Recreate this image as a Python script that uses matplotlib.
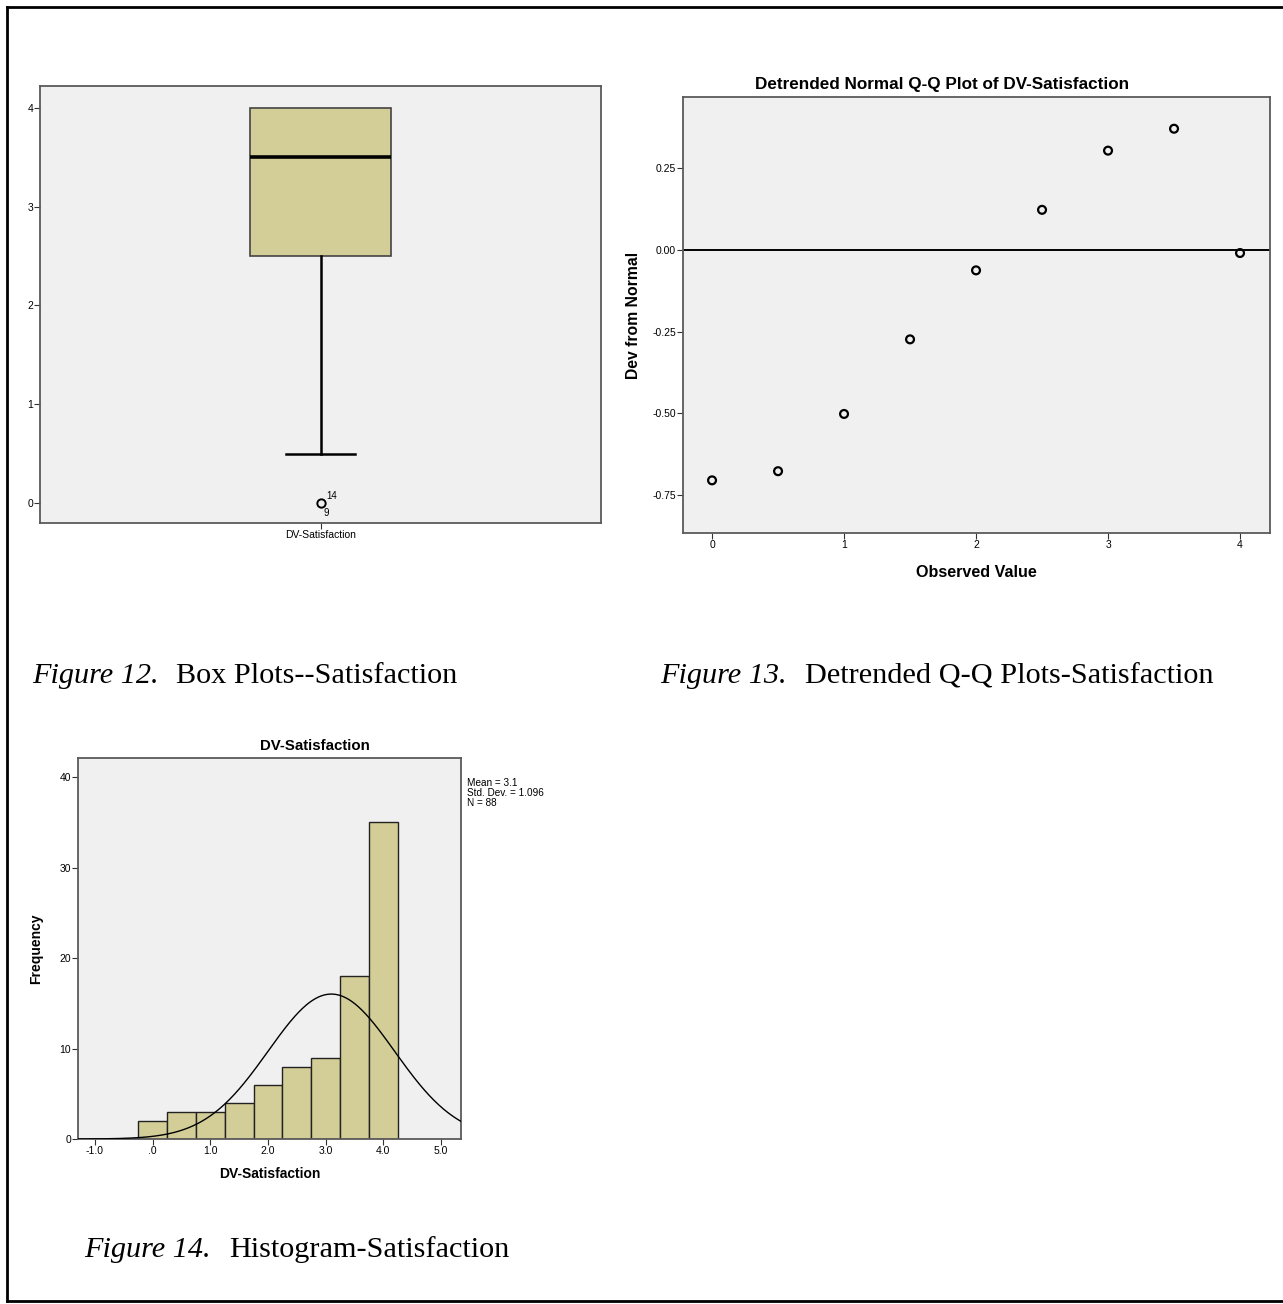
import matplotlib
matplotlib.use("Agg")
import matplotlib.pyplot as plt
import numpy as np

plt.rcParams['font.family'] = ['Liberation Sans', 'DejaVu Sans']

W, H = 1283, 1304

# box plot summary (DV-Satisfaction)
box_label = "DV-Satisfaction"
box_q1, box_med, box_q3 = 2.5, 3.5, 4.0
box_whislo, box_whishi = 0.5, 4.0
outlier_vals = [0.0]
outlier_ids = ["14", "9"]

# detrended Q-Q points
qq_observed = [0.0, 0.5, 1.0, 1.5, 2.0, 2.5, 3.0, 3.5, 4.0]
qq_dev = [-0.705, -0.677, -0.502, -0.274, -0.063, 0.122, 0.303, 0.370, -0.010]

# histogram
hist_centers = [0.0, 0.5, 1.0, 1.5, 2.0, 2.5, 3.0, 3.5, 4.0]
hist_counts = [2, 3, 3, 4, 6, 8, 9, 18, 35]
hist_mean, hist_sd, hist_n = 3.1, 1.096, 88
hist_xticks = [-1.0, 0.0, 1.0, 2.0, 3.0, 4.0, 5.0]
hist_xlabels = ["-1.0", ".0", "1.0", "2.0", "3.0", "4.0", "5.0"]

BG = '#f0f0f0'
FILL = '#d3ce97'
SPINE = '#5a5a5a'


def px_axes(fig, x0, y0, x1, y1):
    return fig.add_axes([x0 / W, 1 - y1 / H, (x1 - x0) / W, (y1 - y0) / H])


def style(ax):
    ax.set_facecolor(BG)
    for s in ax.spines.values():
        s.set_color(SPINE)
        s.set_linewidth(1.3)
    ax.tick_params(labelsize=7.5, length=4, width=0.8, color='#333333', pad=1)


fig = plt.figure(figsize=(W / 100, H / 100), dpi=100)

# page border
fig.add_artist(plt.Line2D([7 / W, 7 / W], [1 - 7 / H, 1 - 1301 / H], color='black', lw=2))
fig.add_artist(plt.Line2D([7 / W, 1.0], [1 - 7 / H, 1 - 7 / H], color='black', lw=2))
fig.add_artist(plt.Line2D([7 / W, 1.0], [1 - 1301 / H, 1 - 1301 / H], color='black', lw=2))

# ---- box plot
ax1 = px_axes(fig, 40, 86, 601, 523)
style(ax1)
stats = [dict(label=box_label, q1=box_q1, med=box_med, q3=box_q3,
              whislo=box_whislo, whishi=box_whishi, fliers=outlier_vals)]
parts = ax1.bxp(stats, positions=[1], widths=0.503, patch_artist=True,
                boxprops=dict(facecolor=FILL, edgecolor='#444444', linewidth=1.2),
                medianprops=dict(color='black', linewidth=2.6),
                whiskerprops=dict(color='black', linewidth=1.8),
                capprops=dict(color='black', linewidth=1.8),
                capwidths=0.246,
                flierprops=dict(marker='o', markerfacecolor='none', markeredgecolor='black',
                                markersize=6, markeredgewidth=1.4))
# upper whisker sits on the box edge, so no cap is shown there
parts['caps'][1].set_visible(False)
ax1.set_xlim(0, 2)
ax1.set_ylim(-0.2, 4.22)
ax1.set_yticks([0, 1, 2, 3, 4])
ax1.set_xticks([1])
ax1.set_xticklabels([box_label])
ax1.annotate(outlier_ids[0], (1, outlier_vals[0]), xytext=(4, 5), textcoords='offset points',
             fontsize=7, ha='left', va='center')
ax1.annotate(outlier_ids[1], (1, outlier_vals[0]), xytext=(2.5, -7), textcoords='offset points',
             fontsize=7, ha='left', va='center')

# ---- detrended Q-Q plot
ax2 = px_axes(fig, 683, 97, 1270, 533)
style(ax2)
ax2.axhline(0, color='black', linewidth=1.4, zorder=1)
ax2.scatter(qq_observed, qq_dev, s=32, facecolors='none', edgecolors='black',
            linewidths=1.6, zorder=3)
ax2.set_xlim(-0.22, 4.227)
ax2.set_ylim(-0.866, 0.467)
ax2.set_xticks([0, 1, 2, 3, 4])
ax2.set_yticks([-0.75, -0.5, -0.25, 0.0, 0.25])
ax2.set_yticklabels(["-0.75", "-0.50", "-0.25", "0.00", "0.25"])
fig.text(942 / W, 1 - 84 / H, "Detrended Normal Q-Q Plot of DV-Satisfaction",
         fontsize=12.3, fontweight='bold', ha='center', va='center')
ax2.set_xlabel("Observed Value", fontsize=11.6, fontweight='bold', labelpad=11)
ax2.set_ylabel("Dev from Normal", fontsize=11.3, fontweight='bold', labelpad=8)

# ---- histogram
ax3 = px_axes(fig, 78, 758, 461, 1139)
style(ax3)
ax3.bar(hist_centers, hist_counts, width=0.5, color=FILL, edgecolor='#222222',
        linewidth=1.0, zorder=2)
xs = np.linspace(-1.295, 5.35, 400)
curve = hist_n * 0.5 / (hist_sd * np.sqrt(2 * np.pi)) * np.exp(-0.5 * ((xs - hist_mean) / hist_sd) ** 2)
ax3.plot(xs, curve, color='black', linewidth=1.0, zorder=3)
ax3.set_xlim(-1.295, 5.35)
ax3.set_ylim(0, 42.1)
ax3.set_yticks([0, 10, 20, 30, 40])
ax3.set_xticks(hist_xticks)
ax3.set_xticklabels(hist_xlabels)
fig.text(315 / W, 1 - 746 / H, "DV-Satisfaction", fontsize=10.8, fontweight='bold',
         ha='center', va='center')
ax3.set_xlabel("DV-Satisfaction", fontsize=10, fontweight='bold', labelpad=8)
ax3.set_ylabel("Frequency", fontsize=10, fontweight='bold', labelpad=12)
fig.text(467 / W, 1 - 778 / H,
         "Mean = %.1f\nStd. Dev. = %.3f\nN = %d" % (hist_mean, hist_sd, hist_n),
         fontsize=7.2, va='top', ha='left', linespacing=1.0)

# ---- captions
serif = ['Liberation Serif', 'DejaVu Serif']
captions = [
    (32, 176, 683, "Figure 12.", "Box Plots--Satisfaction"),
    (660, 805, 683, "Figure 13.", "Detrended Q-Q Plots-Satisfaction"),
    (84, 229, 1257, "Figure 14.", "Histogram-Satisfaction"),
]
for x_fig, x_txt, y_base, lead, body in captions:
    fig.text(x_fig / W, 1 - y_base / H, lead, family=serif, style='italic',
             fontsize=21.8, va='baseline', ha='left')
    fig.text(x_txt / W, 1 - y_base / H, body, family=serif,
             fontsize=21.8, va='baseline', ha='left')

fig.savefig("out.png", dpi=100, facecolor='white')
